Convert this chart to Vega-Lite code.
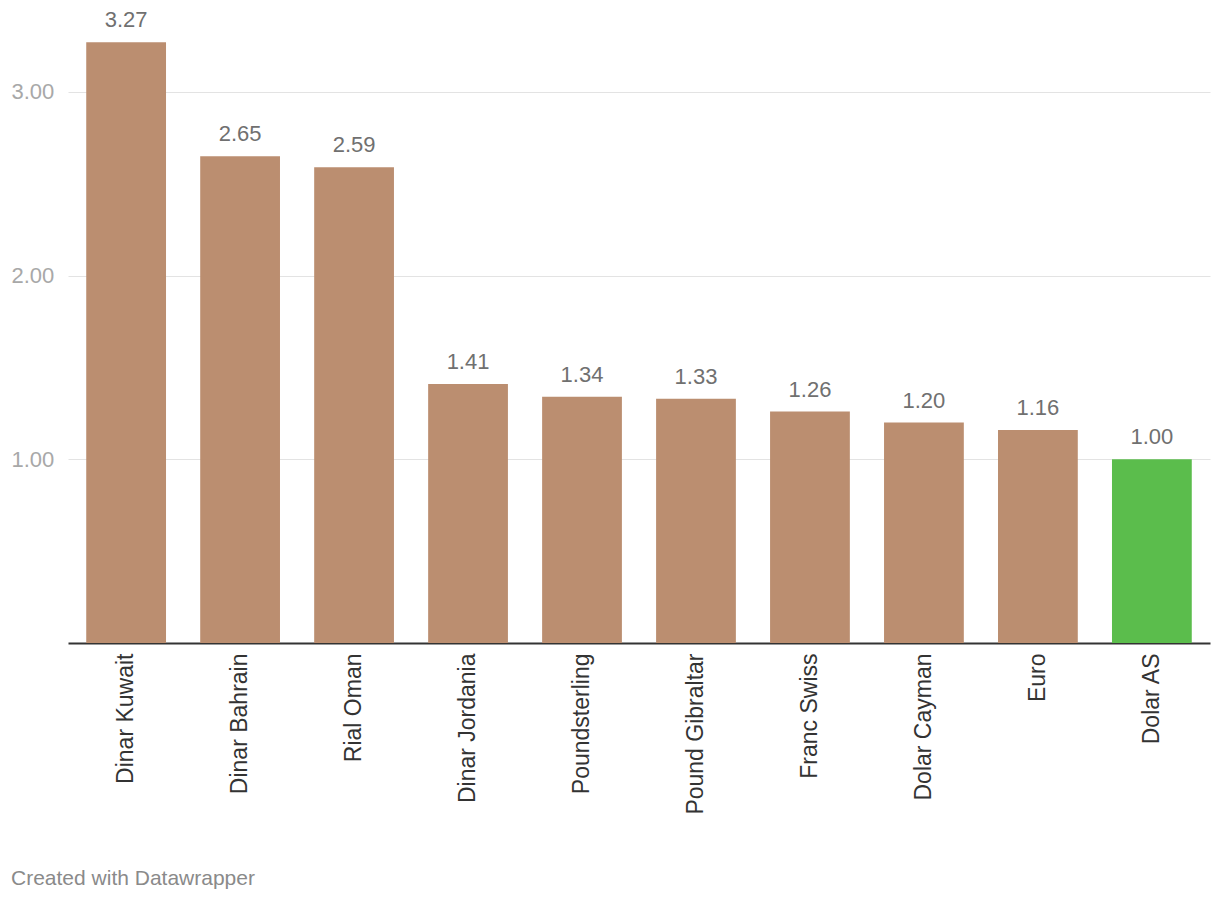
{
  "$schema": "https://vega.github.io/schema/vega-lite/v6.json",
  "width": 1142,
  "height": 643,
  "autosize": "none",
  "padding": {"left": 68, "top": 0, "right": 10, "bottom": 259},
  "background": "white",
  "title": {
    "text": "Created with Datawrapper",
    "orient": "bottom",
    "anchor": "start",
    "frame": "bounds",
    "fontSize": 21,
    "color": "#8a8a8a",
    "font": "Liberation Sans",
    "fontWeight": "normal",
    "offset": 54
  },
  "config": {
    "view": {"stroke": null},
    "font": "Liberation Sans"
  },
  "data": {
    "values": [
      {"currency": "Dinar Kuwait", "value": 3.27},
      {"currency": "Dinar Bahrain", "value": 2.65},
      {"currency": "Rial Oman", "value": 2.59},
      {"currency": "Dinar Jordania", "value": 1.41},
      {"currency": "Poundsterling", "value": 1.34},
      {"currency": "Pound Gibraltar", "value": 1.33},
      {"currency": "Franc Swiss", "value": 1.26},
      {"currency": "Dolar Cayman", "value": 1.2},
      {"currency": "Euro", "value": 1.16},
      {"currency": "Dolar AS", "value": 1.0}
    ]
  },
  "encoding": {
    "x": {
      "field": "currency",
      "type": "nominal",
      "sort": null,
      "scale": {"paddingInner": 0.3, "paddingOuter": 0.16},
      "axis": {
        "title": null,
        "labelAngle": -90,
        "labelFontSize": 23,
        "labelColor": "#333333",
        "labelPadding": 10,
        "ticks": false,
        "domainColor": "#333333",
        "domainWidth": 2
      }
    },
    "y": {
      "field": "value",
      "type": "quantitative",
      "scale": {"domain": [0, 3.5], "nice": false},
      "axis": {
        "title": null,
        "values": [1, 2, 3],
        "format": ".2f",
        "domain": false,
        "ticks": false,
        "labelAlign": "left",
        "labelPadding": 57,
        "labelFontSize": 22,
        "labelColor": "#a8a8a8",
        "gridColor": "#e3e3e3",
        "gridWidth": 1
      }
    }
  },
  "layer": [
    {
      "mark": {"type": "bar"},
      "encoding": {
        "color": {
          "condition": {"test": "datum.currency === 'Dolar AS'", "value": "#5bbd4c"},
          "value": "#bb8e70"
        }
      }
    },
    {
      "mark": {"type": "text", "baseline": "alphabetic", "dy": -15, "fontSize": 22, "color": "#707070"},
      "encoding": {
        "text": {"field": "value", "type": "quantitative", "format": ".2f"}
      }
    }
  ]
}
